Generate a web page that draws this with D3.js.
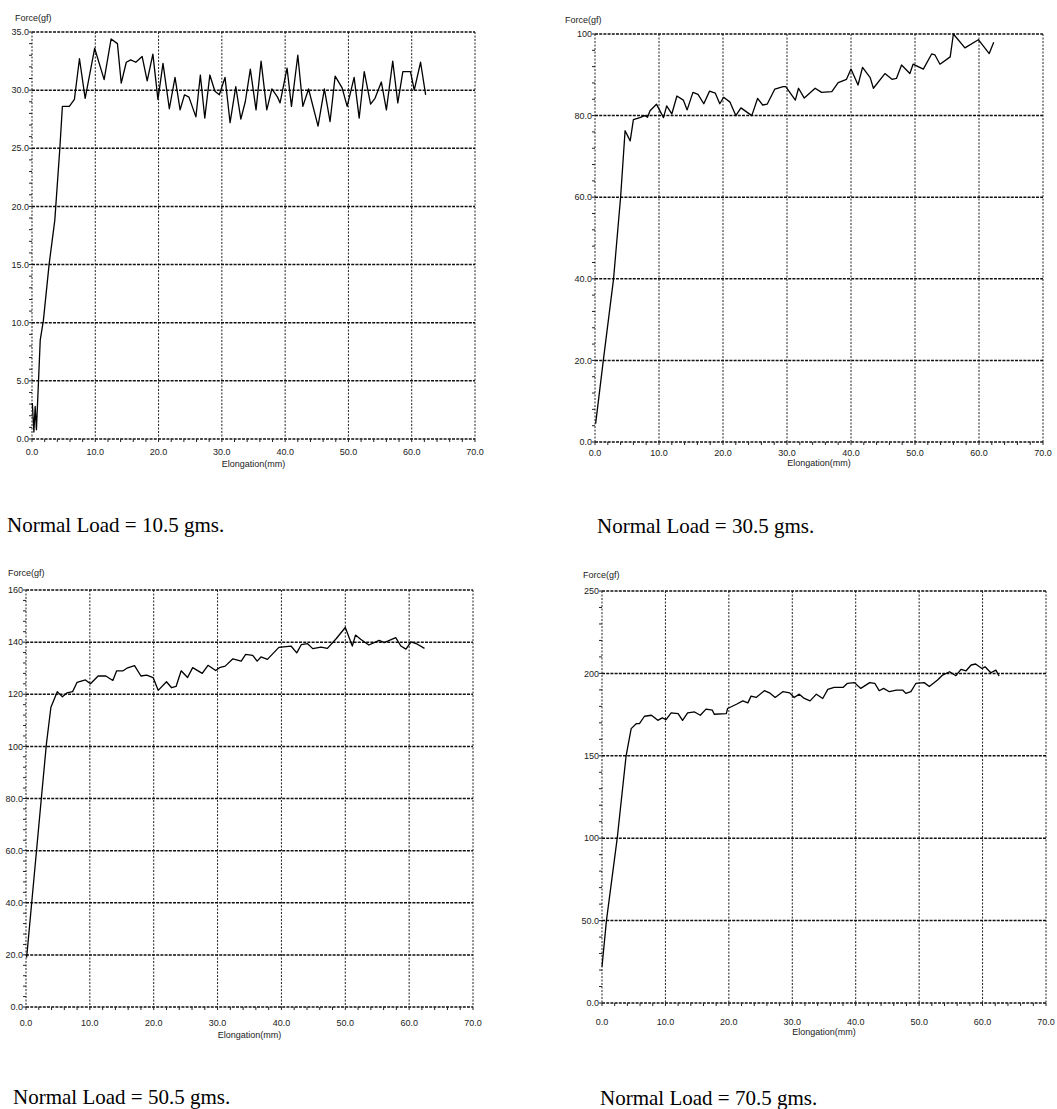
<!DOCTYPE html>
<html>
<head>
<meta charset="utf-8">
<script src="https://cdn.jsdelivr.net/npm/d3@7"></script>
<style>
    body { margin: 0; background: #fff; }
    svg { display: block; background: #fff; }
    .tick-label { font-family: "Liberation Sans", Arial, sans-serif; font-size: 9px; fill: #222; }
    .axis-title { font-family: "Liberation Sans", Arial, sans-serif; font-size: 9px; fill: #222; }
    .caption { font-family: "Liberation Serif", "Times New Roman", serif; font-size: 21px; fill: #000; }
    .grid-h { stroke: #111; stroke-width: 1.5; stroke-dasharray: 3,1.2; }
    .grid-v { stroke: #222; stroke-width: 1; stroke-dasharray: 2,1.5; }
    .minor { stroke: #222; stroke-width: 1; }
    .curve { fill: none; stroke: #000; stroke-width: 1.3; stroke-linejoin: round; }
</style>
</head>
<body>
<svg id="chart" width="1057" height="1109"></svg>
<script>
// elongation (mm) and force (gf)
const elong10 = [0.05, 0.3, 0.5, 0.7, 1.3, 1.8, 2.7, 3.6, 4.4, 4.8, 5.9, 6.7, 7.5, 8.4, 9.9, 11.4, 12.5, 13.5, 14.1, 14.9, 15.6, 16.4, 17.4, 18.2, 19.1, 19.9, 20.7, 21.7, 22.6, 23.4, 24.1, 24.8, 25.9, 26.6, 27.3, 28.1, 28.9, 29.6, 30.5, 31.3, 32.2, 33.0, 33.7, 34.5, 35.4, 36.2, 37.1, 37.9, 38.8, 39.2, 40.3, 41.0, 42.0, 42.8, 43.7, 45.2, 46.2, 47.1, 47.9, 49.0, 49.8, 50.9, 51.7, 52.5, 53.5, 54.2, 55.2, 56.0, 57.0, 57.8, 58.6, 59.8, 60.4, 61.4, 62.2];
const force10 = [3.1, 0.6, 2.8, 0.8, 8.5, 10.2, 15.0, 18.8, 25.0, 28.6, 28.6, 29.2, 32.7, 29.3, 33.6, 30.9, 34.4, 34.0, 30.6, 32.4, 32.6, 32.4, 32.9, 30.8, 33.1, 29.2, 32.3, 28.4, 31.1, 28.3, 29.6, 29.4, 27.7, 31.3, 27.6, 31.3, 29.9, 29.6, 31.1, 27.2, 30.3, 27.5, 29.0, 31.8, 28.3, 32.5, 28.3, 30.1, 29.4, 28.9, 31.9, 28.6, 33.0, 28.6, 30.1, 26.9, 30.1, 27.3, 31.2, 30.2, 28.6, 31.1, 27.6, 31.6, 28.8, 29.3, 30.7, 28.3, 32.5, 28.9, 31.6, 31.6, 30.0, 32.4, 29.6];

const elong30 = [0.1, 1.3, 2.9, 4.0, 4.7, 5.5, 6.0, 7.0, 7.8, 8.2, 8.6, 9.6, 10.7, 11.2, 12.0, 12.8, 13.8, 14.4, 15.3, 16.1, 17.0, 17.9, 18.8, 19.5, 20.1, 21.1, 22.0, 22.8, 24.5, 25.4, 26.2, 26.9, 28.1, 29.4, 29.8, 31.3, 31.8, 32.7, 34.4, 35.4, 37.0, 38.0, 39.3, 40.0, 41.1, 41.8, 43.0, 43.5, 45.3, 46.4, 47.1, 47.9, 49.2, 49.7, 51.3, 52.6, 53.1, 53.9, 55.5, 56.0, 57.8, 59.9, 61.6, 62.3];
const force30 = [4.5, 20, 40, 60, 76.3, 73.8, 79.0, 79.5, 80.0, 79.6, 81.2, 82.8, 79.5, 82.4, 80.4, 84.8, 83.8, 81.4, 85.7, 85.2, 82.9, 86.0, 85.5, 82.9, 84.5, 83.3, 80.0, 81.9, 80.0, 84.2, 82.6, 82.8, 86.5, 87.1, 87.1, 83.8, 86.7, 84.3, 86.7, 85.7, 85.9, 88.1, 88.9, 91.4, 87.5, 91.8, 89.3, 86.7, 90.3, 88.9, 89.1, 92.4, 90.3, 92.6, 91.4, 95.1, 94.9, 92.6, 94.4, 100, 96.6, 98.6, 95.2, 98.0];

const elong50 = [0.1, 2.4, 3.2, 3.9, 4.9, 5.7, 6.4, 7.3, 8.0, 9.3, 10.1, 11.3, 12.5, 13.6, 14.2, 15.2, 15.8, 17.0, 18.0, 18.9, 19.9, 20.7, 22.0, 22.8, 23.5, 24.3, 25.3, 26.1, 27.6, 28.5, 29.7, 30.3, 31.2, 32.4, 33.7, 34.4, 35.5, 36.2, 36.8, 37.8, 39.6, 41.5, 42.4, 43.1, 44.1, 44.9, 46.2, 47.2, 48.6, 50.0, 51.1, 51.6, 52.4, 53.7, 55.3, 56.1, 57.9, 58.7, 59.5, 60.3, 61.3, 62.4];
const force50 = [19, 80, 101, 115, 121, 119, 120.5, 121, 124.6, 125.5, 124, 127, 127, 125.3, 129, 129, 130, 131, 127, 127.3, 126.4, 121.5, 124.8, 122.5, 123, 129, 126.4, 130.2, 128, 131.1, 129.1, 130.2, 130.8, 133.6, 132.7, 135.3, 134.9, 132.7, 134.3, 133.4, 138, 138.5, 135.9, 139, 139.4, 137.5, 138.1, 137.6, 141.4, 145.6, 138.5, 142.7, 141.1, 138.9, 140.7, 139.8, 141.7, 138.5, 137.3, 140.1, 139.2, 137.6];

const elong70 = [0, 0.7, 2.4, 3.8, 4.6, 5.4, 5.9, 6.7, 7.8, 8.8, 9.5, 10.1, 10.9, 12.0, 12.7, 13.5, 14.6, 15.5, 16.4, 17.4, 17.7, 19.6, 19.8, 21.2, 22.2, 23.0, 23.5, 24.3, 25.6, 26.4, 27.3, 28.5, 29.6, 30.3, 31.1, 31.9, 32.8, 33.8, 34.8, 35.6, 36.6, 38.0, 38.7, 39.8, 40.8, 42.2, 43.0, 43.7, 44.4, 45.3, 46.4, 47.4, 47.9, 48.7, 49.5, 50.8, 51.6, 52.9, 53.7, 54.8, 55.8, 56.6, 57.4, 58.2, 58.9, 59.9, 60.4, 61.3, 62.1, 62.6];
const force70 = [22, 50, 100, 150, 166.5, 169.5, 169.5, 174, 174.6, 171.5, 173, 172, 176, 175.6, 171.5, 176, 176.6, 174.6, 178.3, 177.7, 175.2, 175.6, 178.7, 181.3, 183.3, 182.1, 186.2, 185.4, 189.5, 188.2, 185.4, 188.9, 188.2, 185.4, 187.4, 184.8, 183.3, 187.4, 184.8, 190.3, 191.5, 191.5, 194, 194.4, 190.9, 194.4, 194, 189.5, 190.9, 188.9, 189.9, 189.9, 187.9, 188.9, 194, 194.4, 192, 196, 199, 201, 198.6, 202.4, 201.6, 205.1, 205.7, 203, 204, 200.4, 202, 198.4];

const loads = ["10.5", "30.5", "50.5", "70.5"];
const yMaxes = [35, 100, 160, 250];
const yStepSizes = [5, 20, 20, 50];
const xTicks = [0, 10, 20, 30, 40, 50, 60, 70];

class ForceChart {

    constructor(svg, cfg) {
        this.svg = svg;
        this.cfg = cfg;
        this.g = svg.append("g");

        this.x = d3.scaleLinear().domain([0, 70]).range([cfg.left, cfg.right]);
        this.y = d3.scaleLinear().domain([0, cfg.yMax]).range([cfg.bottom, cfg.top]);

        this.drawGrid();
        this.drawTicks();
        this.drawCurve();
        this.drawLabels();
    }

    drawGrid() {
        let cfg = this.cfg;
        let yTicks = d3.range(0, cfg.yMax + cfg.yStep / 2, cfg.yStep);

        this.g.append("g")
            .selectAll("line")
            .data(xTicks)
            .enter()
            .append("line")
                .classed("grid-v", true)
                .attr("x1", d => this.x(d))
                .attr("x2", d => this.x(d))
                .attr("y1", cfg.top)
                .attr("y2", cfg.bottom);

        this.g.append("g")
            .selectAll("line")
            .data(yTicks)
            .enter()
            .append("line")
                .classed("grid-h", true)
                .attr("x1", cfg.left)
                .attr("x2", cfg.right)
                .attr("y1", d => this.y(d))
                .attr("y2", d => this.y(d));
    }

    drawTicks() {
        let cfg = this.cfg;
        // 5 minor steps per major interval on both axes
        let yMinor = d3.range(0, cfg.yMax + 1e-6, cfg.yStep / 5);
        let xMinor = d3.range(0, 70 + 1e-6, 2);

        this.g.append("g")
            .selectAll("line")
            .data(yMinor)
            .enter()
            .append("line")
                .classed("minor", true)
                .attr("x1", cfg.left - 3)
                .attr("x2", cfg.left)
                .attr("y1", d => this.y(d))
                .attr("y2", d => this.y(d));

        this.g.append("g")
            .selectAll("line")
            .data(xMinor)
            .enter()
            .append("line")
                .classed("minor", true)
                .attr("x1", d => this.x(d))
                .attr("x2", d => this.x(d))
                .attr("y1", cfg.bottom)
                .attr("y2", cfg.bottom + 3);
    }

    drawCurve() {
        let line = d3.line()
            .x(d => this.x(d[0]))
            .y(d => this.y(d[1]));

        this.g.append("path")
            .datum(d3.zip(this.cfg.elong, this.cfg.force))
            .classed("curve", true)
            .attr("d", line);
    }

    drawLabels() {
        let cfg = this.cfg;
        let fmt = v => v >= 100 ? d3.format("d")(v) : d3.format(".1f")(v);
        let yTicks = d3.range(0, cfg.yMax + cfg.yStep / 2, cfg.yStep);

        this.g.append("g")
            .selectAll("text")
            .data(yTicks)
            .enter()
            .append("text")
                .classed("tick-label", true)
                .attr("x", cfg.left - 3)
                .attr("y", d => this.y(d))
                .attr("dy", "0.35em")
                .attr("text-anchor", "end")
                .text(fmt);

        this.g.append("g")
            .selectAll("text")
            .data(xTicks)
            .enter()
            .append("text")
                .classed("tick-label", true)
                .attr("x", d => this.x(d))
                .attr("y", cfg.bottom + cfg.tickGap)
                .attr("dy", "0.35em")
                .attr("text-anchor", "middle")
                .text(d => d3.format(".1f")(d));

        this.g.append("text")
            .classed("axis-title", true)
            .attr("x", this.x(35))
            .attr("y", cfg.bottom + cfg.titleGap)
            .attr("dy", "0.35em")
            .attr("text-anchor", "middle")
            .text("Elongation(mm)");

        this.g.append("text")
            .classed("axis-title", true)
            .attr("x", cfg.forceX)
            .attr("y", cfg.top - cfg.forceGap)
            .attr("dy", "0.35em")
            .text("Force(gf)");

        this.g.append("text")
            .classed("caption", true)
            .attr("x", cfg.capX)
            .attr("y", cfg.capY)
            .text(`Normal Load = ${cfg.load} gms.`);
    }
}

let svg = d3.select("#chart");

let frames = [
    { left: 32,  right: 475,  top: 32,  bottom: 439,  tickGap: 13, titleGap: 25, forceX: 15,  forceGap: 14, capX: 7,   capY: 532 },
    { left: 595, right: 1043, top: 34,  bottom: 442,  tickGap: 11, titleGap: 21, forceX: 565, forceGap: 14, capX: 597, capY: 533 },
    { left: 26,  right: 473,  top: 590, bottom: 1007, tickGap: 16, titleGap: 28, forceX: 8,   forceGap: 17, capX: 13,  capY: 1104 },
    { left: 602, right: 1046, top: 591, bottom: 1003, tickGap: 19, titleGap: 29, forceX: 583, forceGap: 16, capX: 600, capY: 1105 }
];
let series = [[elong10, force10], [elong30, force30], [elong50, force50], [elong70, force70]];

frames.forEach((f, i) => {
    new ForceChart(svg, Object.assign({}, f, {
        yMax: yMaxes[i],
        yStep: yStepSizes[i],
        elong: series[i][0],
        force: series[i][1],
        load: loads[i]
    }));
});
</script>
</body>
</html>
